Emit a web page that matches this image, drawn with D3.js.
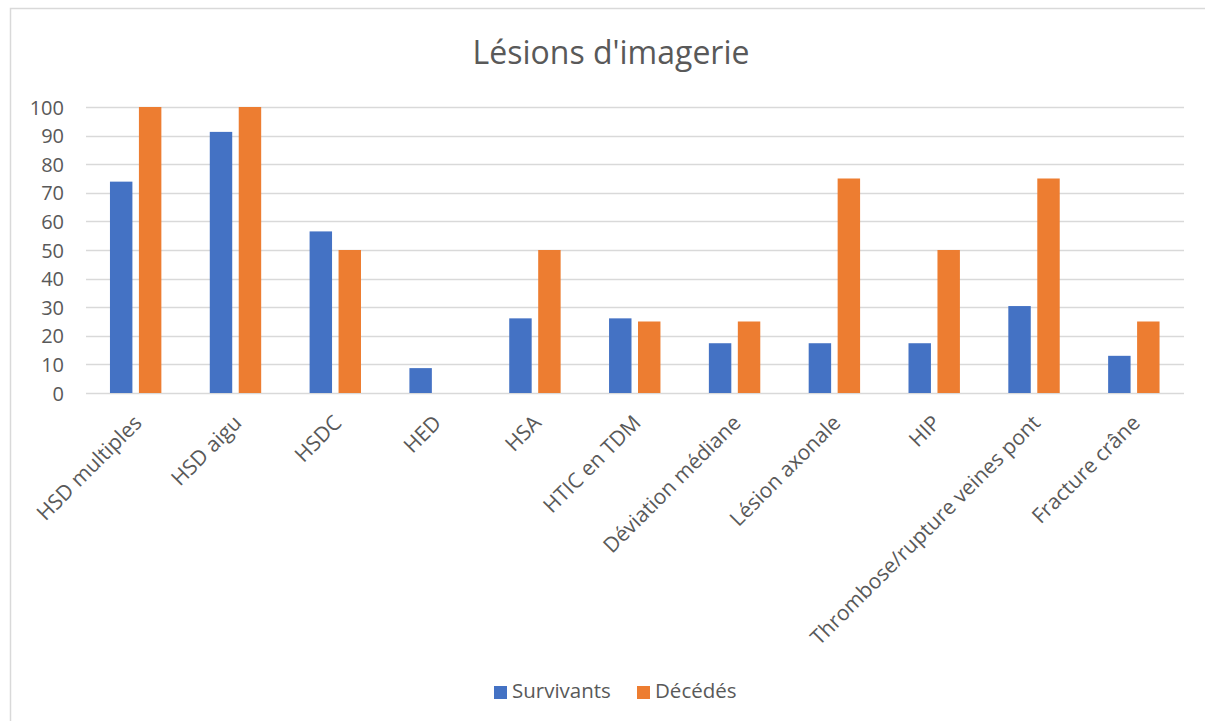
<!DOCTYPE html>
<html>
<head>
<meta charset="utf-8">
<script src="https://cdn.jsdelivr.net/npm/d3@7"></script>
<style>
  body { margin: 0; background: #fff; }
  text { font-family: "Open Sans", "Noto Sans", sans-serif; fill: #595959; }
</style>
</head>
<body>
<div id="chart"></div>
<script>
// Data
var categories = ['HSD multiples', 'HSD aigu', 'HSDC', 'HED', 'HSA', 'HTIC en TDM',
  'Déviation médiane', 'Lésion axonale', 'HIP', 'Thrombose/rupture veines pont', 'Fracture crâne']
var seriesNames = ['Survivants', 'Décédés']
var survivants = [73.9, 91.3, 56.5, 8.7, 26.1, 26.1, 17.4, 17.4, 17.4, 30.4, 13.0]
var decedes = [100, 100, 50, 0, 50, 25, 25, 75, 50, 75, 25]
var yTicks = [0, 10, 20, 30, 40, 50, 60, 70, 80, 90, 100]
var colors = ['#4472c4', '#ed7d31']

var chart = {
  width: 1205,
  height: 721,
  left: 86,
  right: 1184,
  top: 107,
  bottom: 393
}

var svg = d3.select('#chart')
  .append('svg')
  .attr('width', chart.width)
  .attr('height', chart.height)

// Chart border
svg.append('rect')
  .attr('x', 10.5)
  .attr('y', 8.5)
  .attr('width', 1200)
  .attr('height', 720)
  .attr('fill', 'none')
  .attr('stroke', '#d9d9d9')
  .attr('stroke-width', 1.5)

// Title
svg.append('text')
  .attr('x', 611)
  .attr('y', 64)
  .attr('text-anchor', 'middle')
  .style('font-size', '32px')
  .text("Lésions d'imagerie")

// Scales
var x = d3.scaleBand()
  .domain(categories)
  .range([chart.left, chart.right])

var xInner = d3.scaleBand()
  .domain(seriesNames)
  .range([x.bandwidth() * 0.24, x.bandwidth() * 0.755])
  .paddingInner(0.225)

var y = d3.scaleLinear()
  .domain([0, 100])
  .range([chart.bottom, chart.top])

// Gridlines
svg.append('g')
  .selectAll('line')
  .data(yTicks)
  .enter()
  .append('line')
  .attr('x1', chart.left)
  .attr('x2', chart.right)
  .attr('y1', d => Math.round(y(d)) + 0.5)
  .attr('y2', d => Math.round(y(d)) + 0.5)
  .attr('stroke', '#d9d9d9')
  .attr('stroke-width', 1.5)

// Y axis labels
var yAxis = d3.axisLeft(y).tickValues(yTicks).tickSize(0).tickPadding(0)
var yAxisG = svg.append('g')
  .attr('transform', `translate(64,0)`)
  .call(yAxis)
yAxisG.select('.domain').remove()
yAxisG.selectAll('text')
  .style('font-size', '20px')
  .style('font-family', '"Open Sans", "Noto Sans", sans-serif')
  .attr('fill', '#595959')
  .attr('dy', '0.35em')

// Bars
var rows = categories.map((c, i) => ({ cat: c, values: [survivants[i], decedes[i]] }))

var groups = svg.append('g')
  .selectAll('g')
  .data(rows)
  .enter()
  .append('g')
  .attr('transform', d => `translate(${x(d.cat)},0)`)

groups.selectAll('rect')
  .data(d => d.values.map((v, j) => ({ name: seriesNames[j], value: v, j: j })))
  .enter()
  .append('rect')
  .attr('x', d => xInner(d.name))
  .attr('width', xInner.bandwidth())
  .attr('y', d => y(d.value))
  .attr('height', d => y(0) - y(d.value))
  .attr('fill', d => colors[d.j])

// X axis labels
var xAxis = d3.axisBottom(x).tickSize(0).tickPadding(0)
var xAxisG = svg.append('g')
  .attr('transform', `translate(0,${chart.bottom})`)
  .call(xAxis)
xAxisG.select('.domain').remove()
xAxisG.selectAll('text')
  .style('font-size', '21px')
  .style('font-family', '"Open Sans", "Noto Sans", sans-serif')
  .attr('fill', '#595959')
  .attr('text-anchor', 'end')
  .attr('dy', '0.35em')
  .attr('transform', 'translate(2,26) rotate(-45)')

// Legend
var legend = svg.append('g')
  .attr('transform', 'translate(494,686)')

var legendItems = legend.selectAll('g')
  .data(seriesNames)
  .enter()
  .append('g')
  .attr('transform', (d, i) => `translate(${i * 143},0)`)

legendItems.append('rect')
  .attr('width', 13)
  .attr('height', 13)
  .attr('fill', (d, i) => colors[i])

legendItems.append('text')
  .attr('x', 18)
  .attr('y', 12)
  .style('font-size', '20.5px')
  .text(d => d)
</script>
</body>
</html>
